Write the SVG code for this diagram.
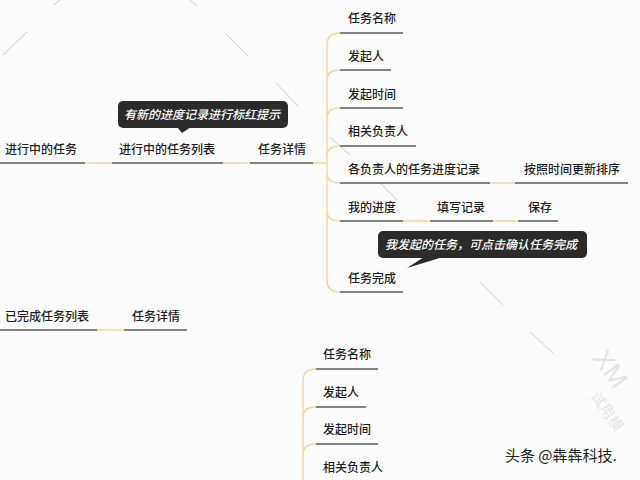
<svg xmlns="http://www.w3.org/2000/svg" width="640" height="480" viewBox="0 0 640 480">
<style>
.t{font-family:"Noto Sans CJK SC","Noto Sans",sans-serif;font-size:12px;font-weight:500;fill:#1e1e1e}
.u{stroke:#5a5a5a;stroke-width:1.5;fill:none}
.c{stroke:#f3d89c;stroke-width:1.5;fill:none}
.w{stroke:#cfcfcf;stroke-width:1;fill:none}
.bub{fill:#2b2b2b}
.bt{font-family:"Noto Sans CJK SC","Noto Sans",sans-serif;font-size:12px;font-weight:500;fill:#ffffff;font-style:italic}
.wm{font-family:"Liberation Sans","Noto Sans CJK SC",sans-serif;fill:#e4e4e6}
</style>
<rect width="640" height="480" fill="#fcfcfd"/>
<g id="watermark">
<line class="w" x1="3" y1="55" x2="27" y2="32"/>
<line class="w" x1="53" y1="5" x2="60" y2="0"/>
<line class="w" x1="190" y1="0" x2="197" y2="6"/>
<line class="w" x1="225" y1="33" x2="248" y2="56"/>
<line class="w" x1="276" y1="83" x2="298" y2="106"/>
<line class="w" x1="330" y1="137" x2="350" y2="155"/>
<line class="w" x1="380" y1="183" x2="397" y2="200"/>
<line class="w" x1="480" y1="282" x2="503" y2="305"/>
<line class="w" x1="530" y1="332" x2="553" y2="353"/>
<text class="wm" font-size="26" transform="translate(592,358) rotate(55)">XM</text>
<text class="wm" font-size="15" font-family="Noto Sans CJK SC" transform="translate(590,396) rotate(55)">试用模</text>
</g>
<g id="connectors">
<line class="c" x1="85" y1="163" x2="112" y2="163"/>
<line class="c" x1="223" y1="163" x2="250" y2="163"/>
<line class="c" x1="313" y1="163" x2="327" y2="163"/>
<path class="c" d="M340,33 Q327,33 327,45 L327,280 Q327,292 340,292"/>
<path class="c" d="M327,80 Q327,70 340,70"/>
<path class="c" d="M327,118 Q327,108 340,108"/>
<path class="c" d="M327,156 Q327,146 340,146"/>
<path class="c" d="M327,173 Q327,183 340,183"/>
<path class="c" d="M327,211 Q327,221 340,221"/>
<line class="c" x1="490" y1="183" x2="515" y2="183"/>
<line class="c" x1="403" y1="221" x2="430" y2="221"/>
<line class="c" x1="493" y1="221" x2="518" y2="221"/>
<line class="c" x1="97" y1="330" x2="124" y2="330"/>
<path class="c" d="M316,369 Q303,369 303,381 L303,480"/>
<path class="c" d="M303,417 Q303,407 316,407"/>
<path class="c" d="M303,454 Q303,444 316,444"/>
</g>
<g id="n-ongoing"><text class="t" x="5" y="154">进行中的任务</text><line class="u" x1="0" y1="163" x2="85" y2="163"/></g>
<g id="n-ongoing-list"><text class="t" x="119" y="154">进行中的任务列表</text><line class="u" x1="112" y1="163" x2="223" y2="163"/></g>
<g id="n-detail1"><text class="t" x="258" y="154">任务详情</text><line class="u" x1="250" y1="163" x2="313" y2="163"/></g>
<g id="n-name1"><text class="t" x="348" y="23">任务名称</text><line class="u" x1="340" y1="33" x2="403" y2="33"/></g>
<g id="n-initiator1"><text class="t" x="348" y="61">发起人</text><line class="u" x1="340" y1="70" x2="391" y2="70"/></g>
<g id="n-time1"><text class="t" x="348" y="99">发起时间</text><line class="u" x1="340" y1="108" x2="403" y2="108"/></g>
<g id="n-owner1"><text class="t" x="348" y="136">相关负责人</text><line class="u" x1="340" y1="146" x2="416" y2="146"/></g>
<g id="n-records"><text class="t" x="348" y="174">各负责人的任务进度记录</text><line class="u" x1="340" y1="183" x2="490" y2="183"/></g>
<g id="n-sort"><text class="t" x="524" y="174">按照时间更新排序</text><line class="u" x1="515" y1="183" x2="628" y2="183"/></g>
<g id="n-myprogress"><text class="t" x="348" y="212">我的进度</text><line class="u" x1="340" y1="221" x2="403" y2="221"/></g>
<g id="n-fill"><text class="t" x="437" y="212">填写记录</text><line class="u" x1="430" y1="221" x2="493" y2="221"/></g>
<g id="n-save"><text class="t" x="528" y="212">保存</text><line class="u" x1="518" y1="221" x2="558" y2="221"/></g>
<g id="n-complete"><text class="t" x="348" y="283">任务完成</text><line class="u" x1="340" y1="292" x2="403" y2="292"/></g>
<g id="n-done-list"><text class="t" x="5" y="321">已完成任务列表</text><line class="u" x1="0" y1="330" x2="97" y2="330"/></g>
<g id="n-detail2"><text class="t" x="132" y="321">任务详情</text><line class="u" x1="124" y1="330" x2="187" y2="330"/></g>
<g id="n-name2"><text class="t" x="323" y="359">任务名称</text><line class="u" x1="316" y1="369" x2="378" y2="369"/></g>
<g id="n-initiator2"><text class="t" x="323" y="397">发起人</text><line class="u" x1="316" y1="407" x2="366" y2="407"/></g>
<g id="n-time2"><text class="t" x="323" y="434">发起时间</text><line class="u" x1="316" y1="444" x2="378" y2="444"/></g>
<g id="n-owner2"><text class="t" x="323" y="472">相关负责人</text></g>
<g id="callout1">
<rect class="bub" x="118" y="101" width="170" height="27" rx="5"/>
<polygon class="bub" points="177,127 191,127 182,133"/>
<text class="bt" x="124" y="119">有新的进度记录进行标红提示</text>
</g>
<g id="callout2">
<rect class="bub" x="378" y="231" width="209" height="27" rx="5"/>
<polygon class="bub" points="424,257 443,257 407,268"/>
<text class="bt" x="385" y="249">我发起的任务，可点击确认任务完成</text>
</g>
<text x="505" y="461" font-family="Noto Sans CJK SC,sans-serif" font-size="15" fill="#222">头条 @犇犇科技.</text>
</svg>
